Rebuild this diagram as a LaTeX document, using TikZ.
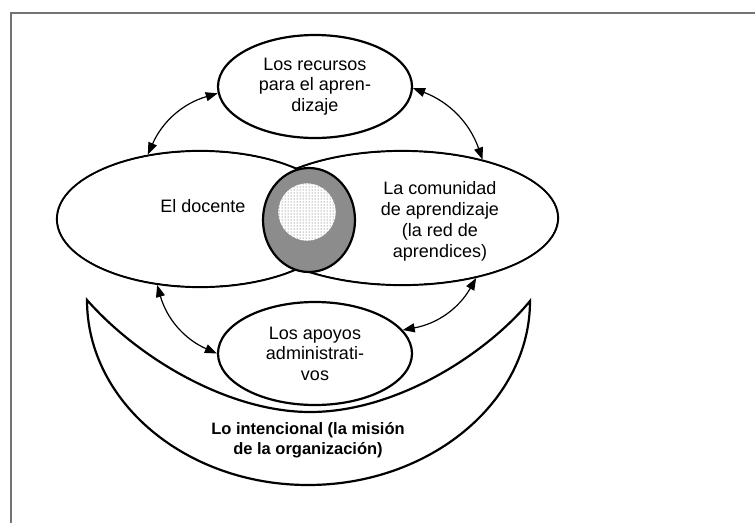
\documentclass[tikz,border=0pt]{standalone}
\usepackage{fontspec}
\setmainfont{Liberation Sans}
\usetikzlibrary{shapes}
\usetikzlibrary{positioning}
\usetikzlibrary{patterns}
\usetikzlibrary{arrows.meta}

\begin{document}
\begin{tikzpicture}[x=1pt, y=-1pt,
            oval/.style = {draw, ellipse, line width=2.2pt, inner sep=0pt,
                align=center, font=\fontsize{18}{20.5}\selectfont},
            erase/.style = {ellipse, fill=white, inner sep=0pt},
            small/.style = {oval, minimum width=194pt, minimum height=103pt},
            txt/.style = {align=center, font=\fontsize{18}{21}\selectfont},
            link/.style = {{Triangle[length=12pt,width=9pt]}-{Triangle[length=12pt,width=9pt]},
                line width=1.2pt},
            frame/.style = {draw=black!55, line width=2pt}]
            \useasboundingbox (0,0) rectangle (755,523);
            \draw[frame] (11,523) -- (11,13) -- (755,13);
            % the two big ovals, the lines inside their overlap wiped out
            \node[oval, minimum width=286pt, minimum height=136pt] (doc) at (200,219) {};
            \node[oval, minimum width=312pt, minimum height=134pt] (red) at (402,218) {};
            \node[erase, minimum width=283.8pt, minimum height=133.8pt] (docin) at (doc) {};
            \node[erase, minimum width=309.8pt, minimum height=131.8pt] (redin) at (red) {};
            \node[txt] (doctxt) at (203,206) {El docente};
            \node[txt] (redtxt) at (440,221.5) {La comunidad\\de aprendizaje\\(la red de\\aprendices)};
            \node[draw, ellipse, line width=2.2pt, fill=black!45,
                minimum width=92pt, minimum height=104pt] (nucleo) at (309,220) {};
            \node[draw=gray, circle, fill=white, minimum size=58pt,
                postaction={pattern=dots, pattern color=black!70}] (centro) at (307,212) {};
            % crescent
            \coordinate (tipL) at (87,300);
            \coordinate (tipR) at (530,301);
            \draw[line width=2.2pt, line join=miter]
                (tipL) .. controls (87,402) and (186,485) .. (308,485)
                .. controls (430,485) and (530,402) .. (tipR)
                .. controls (490,350) and (400,412) .. (310,412)
                .. controls (230,412) and (140,360) .. cycle;
            \node[txt, font=\bfseries\fontsize{16.5}{20.5}\selectfont] (mision) at (308,440)
                {Lo intencional (la misión\\de la organización)};
            \node[small] (rec) at (315,86.5) {Los recursos\\para el apren-\\dizaje};
            \node[small] (apo) at (315,353.5) {Los apoyos\\administrati-\\vos};
            \path[link]
                (doc.129) edge[bend left=25] (rec.184)
                (rec.359) edge[bend left=25] (red.36)
                (doc.237) edge[bend right=25] (apo.180)
                (red.321) edge[bend left=25] (apo.15);
        \end{tikzpicture}
\end{document}
